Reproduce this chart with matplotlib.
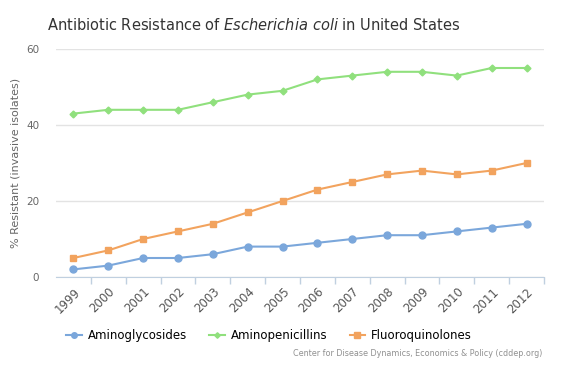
import matplotlib
matplotlib.use('Agg')
import matplotlib.pyplot as plt

years = ['1999', '2000', '2001', '2002', '2003', '2004', '2005', '2006', '2007', '2008', '2009', '2010', '2011', '2012']
aminoglycosides = [2, 3, 5, 5, 6, 8, 8, 9, 10, 11, 11, 12, 13, 14]
aminopenicillins = [43, 44, 44, 44, 46, 48, 49, 52, 53, 54, 54, 53, 55, 55]
fluoroquinolones = [5, 7, 10, 12, 14, 17, 20, 23, 25, 27, 28, 27, 28, 30]
yticks = [0, 20, 40, 60]

plt.rcParams['font.family'] = ['DejaVu Sans']

fig = plt.figure(figsize=(5.66, 3.67), dpi=100)
ax = fig.add_axes([56 / 566, 1 - 277 / 367, 488 / 566, 228 / 367])

x = list(range(len(years)))
ax.plot(x, aminoglycosides, color='#7ba7db', marker='o', markersize=5, lw=1.5, label='Aminoglycosides')
ax.plot(x, aminopenicillins, color='#90e07d', marker='D', markersize=3.5, lw=1.5, label='Aminopenicillins')
ax.plot(x, fluoroquinolones, color='#f2a35e', marker='s', markersize=5, lw=1.5, label='Fluoroquinolones')

ax.set_xlim(-0.5, len(years) - 0.5)
ax.set_ylim(0, 60)
ax.set_yticks(yticks)
ax.set_yticklabels([str(v) for v in yticks], color='#666666', fontsize=7.5)
ax.yaxis.grid(True, color='#e3e3e3', lw=1)
ax.set_axisbelow(True)
ax.tick_params(axis='y', length=0, pad=12)

# category labels at centers, tick marks between categories
ax.set_xticks(x)
ax.set_xticklabels(years, rotation=45, ha='right', rotation_mode='anchor', fontsize=8.5, color='#555555')
ax.tick_params(axis='x', which='major', length=0, pad=6)
ax.set_xticks([i - 0.5 for i in range(1, len(years) + 1)], minor=True)
ax.tick_params(axis='x', which='minor', length=5, color='#c0d0e0', width=1)

for s in ['top', 'right', 'left']:
    ax.spines[s].set_visible(False)
ax.spines['bottom'].set_color('#c0d0e0')

ax.set_ylabel('% Resistant (invasive isolates)', color='#666666', fontsize=8, labelpad=4)

fig.text(47 / 566, 1 - 25 / 367, r'Antibiotic Resistance of $\mathit{Escherichia\ coli}$ in United States',
         fontsize=10.5, color='#333333', va='center', ha='left')

fig.legend(loc='center', bbox_to_anchor=(269 / 566, 1 - 336 / 367), ncol=3, frameon=False,
           fontsize=8.5, handlelength=1.3, columnspacing=1.9, handletextpad=0.5, markerscale=0.8)

fig.text(542 / 566, 1 - 354 / 367, 'Center for Disease Dynamics, Economics & Policy (cddep.org)',
         fontsize=5.75, color='#909090', ha='right', va='center')

fig.savefig('out.png', dpi=100, facecolor='white')
